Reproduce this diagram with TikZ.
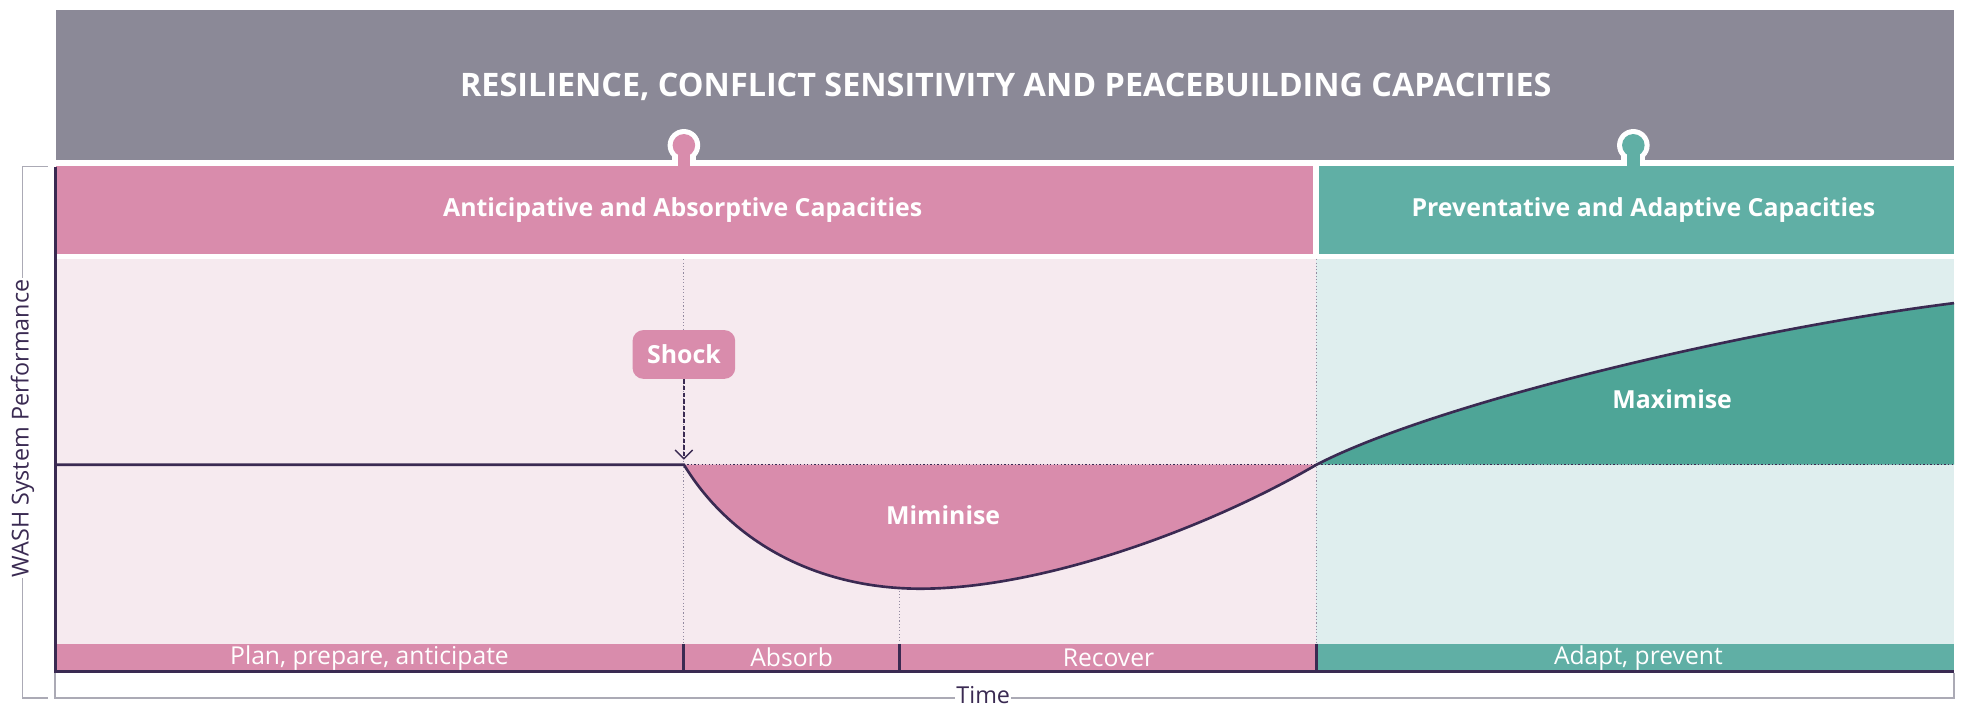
\documentclass[tikz,border=0pt]{standalone}
\usepackage{fontspec}
\setmainfont{Open Sans}
\usetikzlibrary{arrows.meta, positioning}
\definecolor{mygrey}{HTML}{8B8997}
\definecolor{mypink}{HTML}{D98CAC}
\definecolor{myteal}{HTML}{60AFA5}
\definecolor{mydarkteal}{HTML}{4EA597}
\definecolor{lightpink}{HTML}{F6EAEF}
\definecolor{lightteal}{HTML}{DFEEEE}
\definecolor{mydark}{HTML}{3A2A52}
\definecolor{axisgrey}{HTML}{ABAAB5}

\begin{document}
\begin{tikzpicture}[x=0.02cm, y=-0.02cm,
    headtext/.style={text=white, font=\fontsize{11.3}{13}\selectfont\bfseries},
    bartext/.style={text=white, font=\fontsize{11.2}{12}\selectfont},
    areatext/.style={text=white, font=\fontsize{11.3}{13}\selectfont\bfseries},
    guide/.style={densely dotted, mydark!55, line width=0.5pt},
    curve/.style={mydark, line width=1.2pt},
    axis/.style={mydark, line width=1.4pt},
    bracket/.style={axisgrey, line width=0.8pt},
    axislabel/.style={fill=white, inner sep=0.5pt, text=mydark, font=\fontsize{10.6}{12}\selectfont}]

    % Canvas
    \useasboundingbox[fill=white] (0,0) rectangle (1568,565);

    % Top banner
    \fill[mygrey] (45,8) rectangle (1560,128);
    \node[text=white, font=\fontsize{14.7}{17}\selectfont\bfseries] (title) at (803,69)
        {RESILIENCE, CONFLICT SENSITIVITY AND PEACEBUILDING CAPACITIES};

    % Puzzle knobs
    \foreach \kx/\kc in {546/mypink, 1304/myteal} {
        \fill[white] (\kx,116) circle[radius=13];
        \fill[white] (\kx-9.5,116) rectangle (\kx+9.5,132);
        \fill[\kc] (\kx,116) circle[radius=9];
        \fill[\kc] (\kx-5,116) rectangle (\kx+5,140);
    }

    % Capacity headers
    \fill[mypink] (45,132.5) rectangle (1048,203);
    \fill[myteal] (1053,132.5) rectangle (1560,203);
    \node[headtext] (anticip) at (545,168) {Anticipative and Absorptive Capacities};
    \node[headtext] (prevent) at (1312,168) {Preventative and Adaptive Capacities};

    % Plot area
    \fill[lightpink] (45,207) rectangle (1051,514);
    \fill[lightteal] (1051,207) rectangle (1560,514);

    % Areas under / over the curve
    \fill[mypink] (546,371) .. controls (585,435) and (655,470) .. (735,470)
        .. controls (830,470) and (960,424) .. (1051,371) -- cycle;
    \fill[mydarkteal] (1051,371) .. controls (1150,320) and (1400,262) .. (1560,242)
        -- (1560,371) -- cycle;

    % Guides
    \draw[guide] (546,207) -- (546,514);
    \draw[guide] (718,469) -- (718,514);
    \draw[guide] (1051,207) -- (1051,514);
    \draw[mydark, densely dotted, line width=0.6pt] (546,371) -- (1560,371);

    % Performance curve
    \draw[curve] (44,371) -- (546,371) .. controls (585,435) and (655,470) .. (735,470)
        .. controls (830,470) and (960,424) .. (1051,371)
        .. controls (1150,320) and (1400,262) .. (1560,242);

    % Phase bar
    \fill[mypink] (45,514) rectangle (1051,536);
    \fill[myteal] (1051,514) rectangle (1560,536);
    \foreach \bx in {546,718,1051}
        \draw[axis] (\bx,514) -- (\bx,536);
    \node[bartext] (plan) at (295,525) {Plan, prepare, anticipate};
    \node[bartext] (absorb) at (632,525) {Absorb};
    \node[bartext] (recover) at (885,525) {Recover};
    \node[bartext] (adapt) at (1308,525) {Adapt, prevent};

    % Axes and brackets
    \draw[axis] (44,133) -- (44,536) -- (1560,536);
    \draw[bracket] (38,133) -- (18,133) -- (18,557) -- (38,557);
    \draw[bracket] (44,537) -- (44,557) -- (1560,557) -- (1560,537);
    \node[axislabel, rotate=90] (perf) at (18,342) {WASH System Performance};
    \node[axislabel] (time) at (785,555) {Time};

    % Shock and area labels
    \node[fill=mypink, rounded corners=5pt, minimum width=1.64cm, minimum height=0.78cm, areatext] (shock) at (546,283) {Shock};
    \coordinate (hit) at (546,367);
    \draw[mydark, dash pattern=on 2pt off 1pt, line width=0.6pt, -{Straight Barb[length=4pt, width=8pt]}] (shock) -- (hit);
    \node[areatext] (minimise) at (753,411) {Miminise};
    \node[areatext] (maximise) at (1335,319) {Maximise};
\end{tikzpicture}
\end{document}
